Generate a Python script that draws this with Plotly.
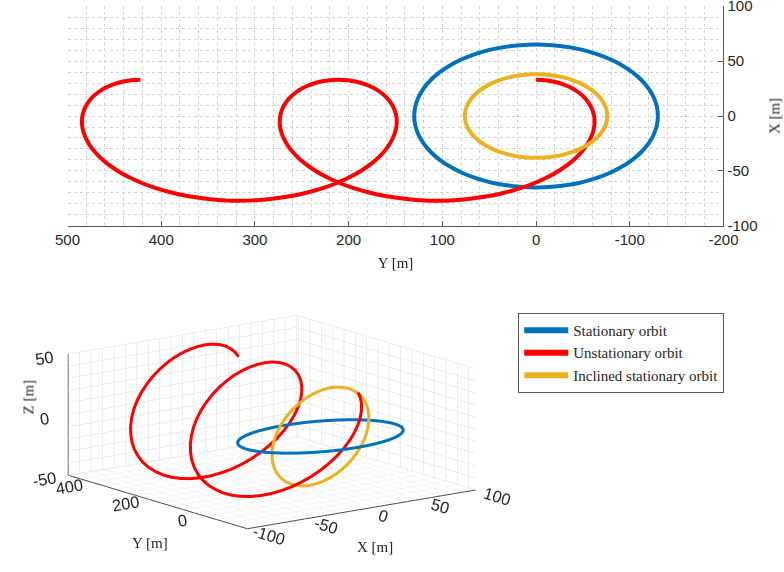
import plotly.graph_objects as go

# ---------------- data ----------------
# Stationary orbit (blue)
stat_X = [65, 64.4, 62.8, 60.1, 56.3, 51.6, 46.0, 39.6, 32.5, 24.9, 16.8, 8.5, 0,
          -8.5, -16.8, -24.9, -32.5, -39.6, -46.0, -51.6, -56.3, -60.1, -62.8, -64.4, -65,
          -64.4, -62.8, -60.1, -56.3, -51.6, -46.0, -39.6, -32.5, -24.9, -16.8, -8.5, 0,
          8.5, 16.8, 24.9, 32.5, 39.6, 46.0, 51.6, 56.3, 60.1, 62.8, 64.4, 65]
stat_Y = [0, 17.0, 33.6, 49.7, 65.0, 79.1, 91.9, 103.1, 112.6, 120.1, 125.6, 128.9, 130,
          128.9, 125.6, 120.1, 112.6, 103.1, 91.9, 79.1, 65.0, 49.7, 33.6, 17.0, 0,
          -17.0, -33.6, -49.7, -65.0, -79.1, -91.9, -103.1, -112.6, -120.1, -125.6, -128.9, -130,
          -128.9, -125.6, -120.1, -112.6, -103.1, -91.9, -79.1, -65.0, -49.7, -33.6, -17.0, 0]
stat_Z = [0] * 49

# Unstationary orbit (red) - two revolutions drifting along Y
uns_X = [33, 32.5, 31.1, 28.8, 25.6, 21.6, 16.9, 11.5, 5.5, -0.9, -7.8, -14.8, -22,
         -29.2, -36.2, -43.1, -49.5, -55.5, -60.9, -65.6, -69.6, -72.8, -75.1, -76.5, -77,
         -76.5, -75.1, -72.8, -69.6, -65.6, -60.9, -55.5, -49.5, -43.1, -36.2, -29.2, -22,
         -14.8, -7.8, -0.9, 5.5, 11.5, 16.9, 21.6, 25.6, 28.8, 31.1, 32.5,
         33, 32.5, 31.1, 28.8, 25.6, 21.6, 16.9, 11.5, 5.5, -0.9, -7.8, -14.8, -22,
         -29.2, -36.2, -43.1, -49.5, -55.5, -60.9, -65.6, -69.6, -72.8, -75.1, -76.5, -77,
         -76.5, -75.1, -72.8, -69.6, -65.6, -60.9, -55.5, -49.5, -43.1, -36.2, -29.2, -22,
         -14.8, -7.8, -0.9, 5.5, 11.5, 16.9, 21.6, 25.6, 28.8, 31.1, 32.5, 33]
uns_Y = [0, -10.0, -19.7, -28.9, -37.4, -45.0, -51.4, -56.5, -60.1, -62.1, -62.3, -60.7, -57.2,
         -51.9, -44.7, -35.7, -24.9, -12.5, 1.4, 16.6, 33.0, 50.3, 68.3, 86.8, 105.6,
         124.3, 142.8, 160.8, 178.1, 194.5, 209.7, 223.6, 236.0, 246.8, 255.8, 263.0, 268.3,
         271.8, 273.4, 273.2, 271.2, 267.6, 262.5, 256.1, 248.5, 240.0, 230.8, 221.1,
         211.1, 201.1, 191.4, 182.2, 173.7, 166.1, 159.7, 154.6, 151.0, 149.0, 148.8, 150.4, 153.9,
         159.2, 166.4, 175.4, 186.2, 198.6, 212.5, 227.7, 244.1, 261.4, 279.4, 297.9, 316.7,
         335.4, 353.9, 371.9, 389.2, 405.6, 420.8, 434.7, 447.1, 457.9, 466.9, 474.1, 479.4,
         482.9, 484.5, 484.3, 482.3, 478.7, 473.6, 467.2, 459.6, 451.1, 441.9, 432.2, 422.2]
uns_Z = [31, 27.4, 23.4, 18.9, 14.2, 9.1, 4.0, -1.3, -6.5, -11.6, -16.5, -21.1, -25.4,
         -29.2, -32.6, -35.3, -37.5, -39.0, -39.9, -40.1, -39.6, -38.4, -36.5, -34.1, -31,
         -27.4, -23.4, -18.9, -14.2, -9.1, -4.0, 1.3, 6.5, 11.6, 16.5, 21.1, 25.4,
         29.2, 32.6, 35.3, 37.5, 39.0, 39.9, 40.1, 39.6, 38.4, 36.5, 34.1,
         31, 27.4, 23.4, 18.9, 14.2, 9.1, 4.0, -1.3, -6.5, -11.6, -16.5, -21.1, -25.4,
         -29.2, -32.6, -35.3, -37.5, -39.0, -39.9, -40.1, -39.6, -38.4, -36.5, -34.1, -31,
         -27.4, -23.4, -18.9, -14.2, -9.1, -4.0, 1.3, 6.5, 11.6, 16.5, 21.1, 25.4,
         29.2, 32.6, 35.3, 37.5, 39.0, 39.9, 40.1, 39.6, 38.4, 36.5, 34.1, 31]

# Inclined stationary orbit (yellow)
inc_X = [38, 37.7, 36.7, 35.1, 32.9, 30.1, 26.9, 23.1, 19, 14.5, 9.8, 5.0, 0,
         -5.0, -9.8, -14.5, -19, -23.1, -26.9, -30.1, -32.9, -35.1, -36.7, -37.7, -38,
         -37.7, -36.7, -35.1, -32.9, -30.1, -26.9, -23.1, -19, -14.5, -9.8, -5.0, 0,
         5.0, 9.8, 14.5, 19, 23.1, 26.9, 30.1, 32.9, 35.1, 36.7, 37.7, 38]
inc_Y = [0, 9.9, 19.7, 29.1, 38, 46.3, 53.7, 60.3, 65.8, 70.2, 73.4, 75.4, 76,
         75.4, 73.4, 70.2, 65.8, 60.3, 53.7, 46.3, 38, 29.1, 19.7, 9.9, 0,
         -9.9, -19.7, -29.1, -38, -46.3, -53.7, -60.3, -65.8, -70.2, -73.4, -75.4, -76,
         -75.4, -73.4, -70.2, -65.8, -60.3, -53.7, -46.3, -38, -29.1, -19.7, -9.9, 0]
inc_Z = [24.3, 27.0, 29.1, 30.8, 32.0, 32.6, 32.7, 32.2, 31.1, 29.5, 27.4, 24.9, 21.9,
         18.5, 14.9, 10.9, 6.8, 2.6, -1.7, -5.9, -10.1, -14.1, -17.8, -21.2, -24.3,
         -27.0, -29.1, -30.8, -32.0, -32.6, -32.7, -32.2, -31.1, -29.5, -27.4, -24.9, -21.9,
         -18.5, -14.9, -10.9, -6.8, -2.6, 1.7, 5.9, 10.1, 14.1, 17.8, 21.2, 24.3]

names = ["Stationary orbit", "Unstationary orbit", "Inclined stationary orbit"]
colors = ["#0072BD", "#FF0000", "#EDB120"]

top_xticks = [500, 400, 300, 200, 100, 0, -100, -200]
top_yticks = [-100, -50, 0, 50, 100]

series = [(stat_X, stat_Y, stat_Z), (uns_X, uns_Y, uns_Z), (inc_X, inc_Y, inc_Z)]

SANS = "Liberation Sans, Arial, sans-serif"
SERIF = "Liberation Serif, Times New Roman, serif"
TXT = "#262626"
AX = "#5a5a5a"
GRID = "#d4d4d4"

fig = go.Figure()

# top view (Y horizontal, X vertical)
for (X, Y, Z), nm, c in zip(series, names, colors):
    fig.add_trace(go.Scatter(x=Y, y=X, mode="lines", name=nm, showlegend=False,
                             line=dict(color=c, width=4, shape="spline"),
                             xaxis="x", yaxis="y"))

# 3-D view
for (X, Y, Z), nm, c in zip(series, names, colors):
    fig.add_trace(go.Scatter3d(x=X, y=Y, z=Z, mode="lines", name=nm,
                               line=dict(color=c, width=6), scene="scene"))

# 3-D grid values (labels only on the main ticks)
x3_vals = list(range(-100, 101, 10))
x3_text = [str(v) if v % 50 == 0 else "" for v in x3_vals]
y3_vals = list(range(-120, 481, 40))
y3_text = [str(v) if v % 200 == 0 else "" for v in y3_vals]
z3_vals = list(range(-50, 51, 10))
z3_text = [str(v) if v % 50 == 0 else "" for v in z3_vals]

ax3 = dict(showbackground=False, gridcolor="#dddddd", gridwidth=1, showline=True,
           linecolor="#4a4a4a", linewidth=2, zeroline=False, ticks="outside",
           tickcolor="rgba(0,0,0,0)", showspikes=False,
           tickfont=dict(family=SANS, size=14, color=TXT), tickmode="array",
           title=dict(text=""))

ttl = dict(family=SERIF, size=15, color=TXT)
K = 2.0   # orthographic zoom

fig.update_layout(
    width=784, height=572,
    margin=dict(l=0, r=0, t=0, b=0),
    paper_bgcolor="white", plot_bgcolor="white",
    xaxis=dict(domain=[0.0861, 0.9228], anchor="y", range=[500, -200], automargin=False,
               tickmode="array", tickvals=top_xticks, ticktext=[str(v) for v in top_xticks],
               ticks="inside", ticklen=5, tickcolor=AX, ticklabeloverflow="allow",
               showline=True, linecolor=AX, linewidth=1, mirror=False,
               showgrid=True, gridcolor=GRID, griddash="dot", gridwidth=1,
               minor=dict(dtick=20, showgrid=True, gridcolor=GRID, griddash="dot", gridwidth=1),
               zeroline=False,
               tickfont=dict(family=SANS, size=15, color=TXT),
               title=dict(text="Y [m]", font=ttl, standoff=10)),
    yaxis=dict(domain=[0.6049, 0.9895], anchor="x", side="right", range=[-100, 100], automargin=False,
               tickmode="array", tickvals=top_yticks, ticktext=[str(v) for v in top_yticks],
               ticks="inside", ticklen=5, tickcolor=AX, ticklabeloverflow="allow",
               showline=True, linecolor=AX, linewidth=1, mirror=False,
               showgrid=True, gridcolor=GRID, griddash="dot", gridwidth=1,
               minor=dict(dtick=10, showgrid=True, gridcolor=GRID, griddash="dot", gridwidth=1),
               zeroline=False,
               tickfont=dict(family=SANS, size=15, color=TXT),
               title=dict(text="X [m]", font=ttl, standoff=12)),
    scene=dict(
        domain=dict(x=[0.0, 0.694], y=[0.012, 0.512]),
        xaxis=dict(ax3, range=[-100, 100], tickvals=x3_vals, ticktext=x3_text, ticklen=12),
        yaxis=dict(ax3, range=[-145, 487], tickvals=y3_vals, ticktext=y3_text, ticklen=18),
        zaxis=dict(ax3, range=[-50, 50], tickvals=z3_vals, ticktext=z3_text, ticklen=5),
        aspectmode="manual", aspectratio=dict(x=1 * K, y=1.04 * K, z=0.435 * K),
        camera=dict(eye=dict(x=-0.586 * 2.0, y=-0.778 * 2.0, z=0.225 * 2.0),
                    center=dict(x=0, y=0, z=0), up=dict(x=0, y=0, z=1),
                    projection=dict(type="orthographic")),
    ),
    annotations=[
        dict(text="Z [m]", x=18 / 784, y=1 - 417 / 572, xref="paper", yref="paper",
             textangle=-90, showarrow=False, font=ttl),
        dict(text="Y [m]", x=130 / 784, y=1 - 553 / 572, xref="paper", yref="paper",
             showarrow=False, font=ttl),
        dict(text="X [m]", x=375 / 784, y=1 - 557 / 572, xref="paper", yref="paper",
             showarrow=False, font=ttl),
    ],
    legend=dict(x=0.661, y=0.453, xanchor="left", yanchor="top",
                bordercolor=AX, borderwidth=1, bgcolor="white",
                font=dict(family=SERIF, size=15, color=TXT),
                tracegroupgap=0, itemwidth=44),
)

fig.write_html("out.html")
